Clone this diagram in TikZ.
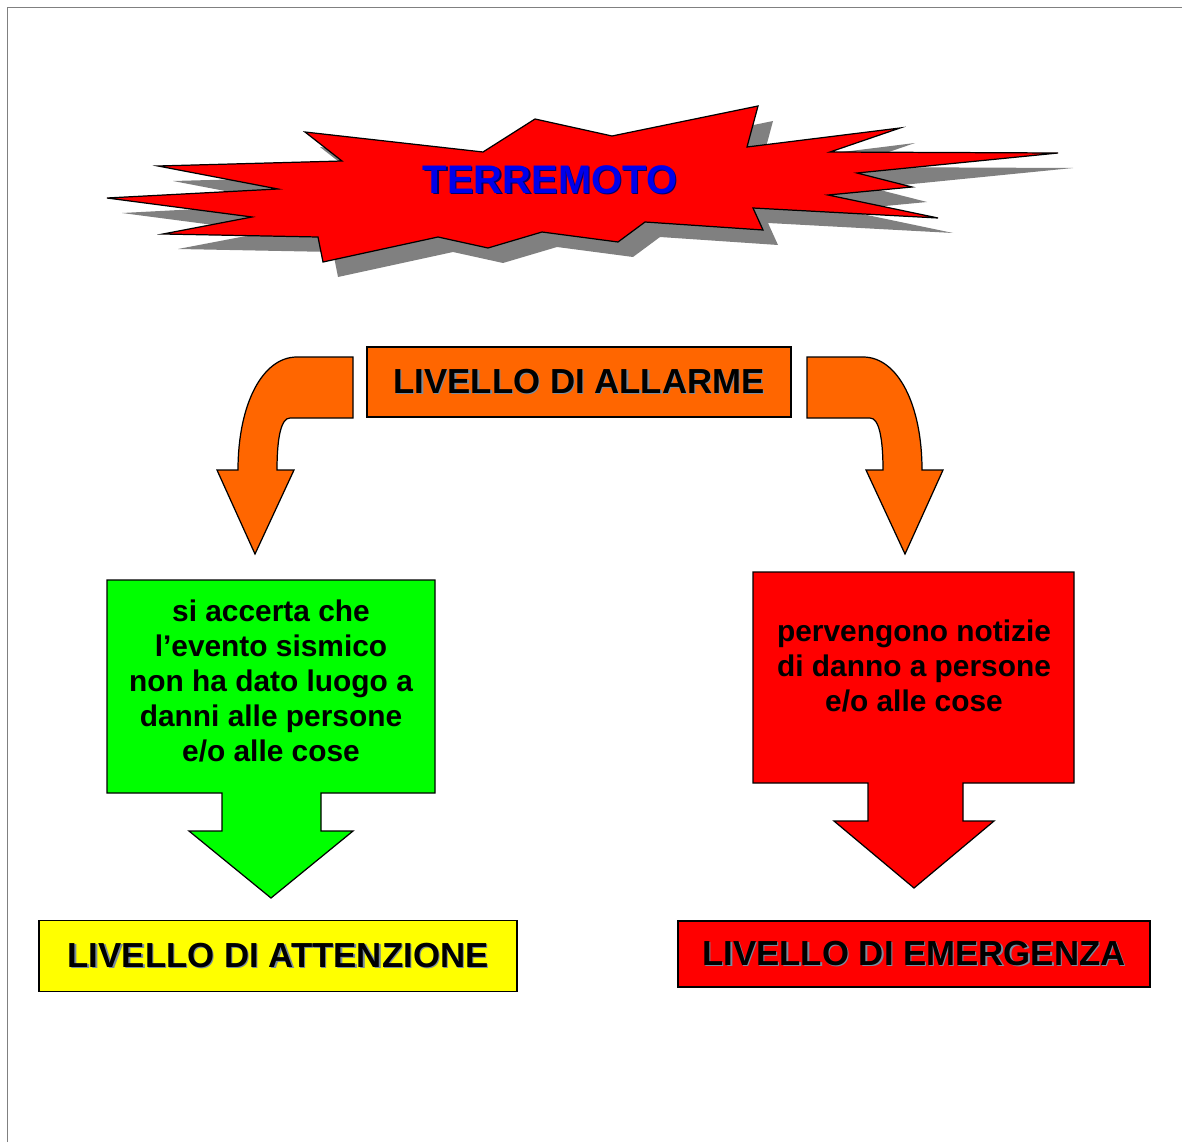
\documentclass[tikz,border=0pt]{standalone}
\usepackage{fontspec}
\setmainfont{Liberation Sans}
\usepackage{xcolor}
\definecolor{qred}{RGB}{255,0,0}
\definecolor{qgreen}{RGB}{0,255,0}
\definecolor{qyellow}{RGB}{255,255,0}
\definecolor{qorange}{RGB}{255,102,0}
\definecolor{qblue}{RGB}{0,0,235}
\definecolor{qgray}{RGB}{128,128,128}
\definecolor{qhalo}{RGB}{120,140,160}
\newcommand{\shadowed}[2]{\makebox[0pt][l]{\hspace{0.8pt}\raisebox{-0.8pt}{\textcolor{#1}{#2}}}#2}

\begin{document}
\begin{tikzpicture}[x=0.02cm,y=-0.02cm,
  outl/.style={draw=black,line width=0.7pt},
  title/.style={font=\fontsize{19.8}{22}\selectfont\bfseries,inner sep=0pt},
  body/.style={font=\fontsize{17}{19.8}\selectfont\bfseries,align=center,inner sep=0pt}]
\useasboundingbox (0,0) rectangle (1182,1142);
% ---- cornice pagina ----
\draw[qgray,line width=1pt] (7.5,1142) -- (7.5,7.5) -- (1182,7.5);
% ---- TERREMOTO ----
\draw[outl,fill=qred,preaction={fill=qgray,transform canvas={shift={(15,15)}}}]
  (305,132) -- (342,161) -- (158,166) -- (278,189) -- (107,198) -- (252,217)
  -- (163,234) -- (318,237) -- (323,262) -- (438,237) -- (488,248) -- (542,232)
  -- (618,242) -- (645,222) -- (763,230) -- (753,208) -- (938,218) -- (828,195)
  -- (912,187) -- (857,173) -- (1058,153) -- (830,152) -- (900,128) -- (747,147)
  -- (758,106) -- (612,136) -- (535,119) -- (483,152) -- cycle;
\node[font=\fontsize{22.7}{26}\selectfont\bfseries,text=qblue] (quake) at (550,180)
  {\shadowed{blue!40!black}{TERREMOTO}};
% ---- LIVELLO DI ALLARME ----
\node[outl,fill=qorange,title,minimum width=8.48cm,minimum height=1.4cm] (allarme) at (579,382)
  {\shadowed{qhalo}{LIVELLO DI ALLARME}};
\foreach \s in {1,-1}{
  \begin{scope}[shift={(580,0)},xscale=\s]
    \draw[outl,fill=qorange] (227,357) -- (283,357)
      .. controls (318,357) and (342,405) .. (342,470) -- (363,470) -- (325,554)
      -- (286,470) -- (303,470) .. controls (303,438) and (299,418) .. (290,418)
      -- (227,418) -- cycle;
  \end{scope}}
% ---- ramo sinistro ----
\draw[outl,fill=qgreen] (107,580) -- (435,580) -- (435,793) -- (321,793) -- (321,831)
  -- (353,831) -- (271,898) -- (189,831) -- (222,831) -- (222,793) -- (107,793) -- cycle;
\node[body] (accerta) at (271,681)
  {si accerta che\\l’evento sismico\\non ha dato luogo a\\danni alle persone\\e/o alle cose};
\node[outl,fill=qyellow,title,minimum width=9.56cm,minimum height=1.42cm] (attenzione) at (278,956)
  {\shadowed{qhalo}{LIVELLO DI ATTENZIONE}};
% ---- ramo destro ----
\draw[outl,fill=qred] (753,572) -- (1074,572) -- (1074,783) -- (963,783) -- (963,821)
  -- (994,821) -- (914,888) -- (834,821) -- (868,821) -- (868,783) -- (753,783) -- cycle;
\node[body] (notizie) at (914,666)
  {pervengono notizie\\di danno a persone\\e/o alle cose};
\node[outl,fill=qred,title,minimum width=9.44cm,minimum height=1.32cm] (emergenza) at (914,954)
  {\shadowed{qhalo}{LIVELLO DI EMERGENZA}};
\end{tikzpicture}
\end{document}
